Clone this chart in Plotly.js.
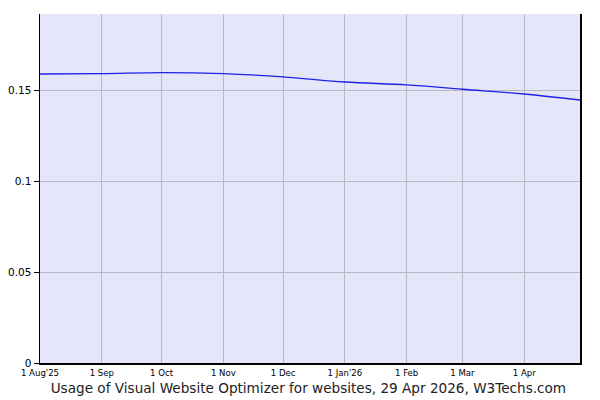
<!DOCTYPE html>
<html>
<head>
<meta charset="utf-8">
<script src="https://cdn.plot.ly/plotly-3.0.1.min.js"></script>
<style>
    html, body { margin: 0; padding: 0; background: #fff; }
    #chart { width: 600px; height: 400px; }
</style>
</head>
<body>
<div id="chart"></div>
<script>
// usage share (%), first of each month + end date
let dates = ["2025-08-01", "2025-09-01", "2025-10-01", "2025-11-01", "2025-12-01",
    "2026-01-01", "2026-02-01", "2026-03-01", "2026-04-01", "2026-04-29"];
let usage = [0.1590, 0.1592, 0.1598, 0.1592, 0.1574, 0.1546, 0.1530, 0.1506, 0.1480, 0.1447];

let tick_dates = ["2025-08-01", "2025-09-01", "2025-10-01", "2025-11-01", "2025-12-01",
    "2026-01-01", "2026-02-01", "2026-03-01", "2026-04-01"];
let tick_labels = ["1 Aug'25", "1 Sep", "1 Oct", "1 Nov", "1 Dec", "1 Jan'26", "1 Feb", "1 Mar", "1 Apr"];
let y_ticks = [0, 0.05, 0.1, 0.15];
let y_labels = ["0", "0.05", "0.1", "0.15"];

let chart_title = "Usage of Visual Website Optimizer for websites, 29 Apr 2026, W3Techs.com";

let trace = {
    x: dates,
    y: usage,
    type: "scatter",
    mode: "lines",
    line: { color: "#2020e8", width: 1.3, shape: "spline", smoothing: 1 },
    hoverinfo: "skip"
};

let layout = {
    width: 600,
    height: 400,
    margin: { l: 40, r: 20, t: 14, b: 37 },
    paper_bgcolor: "#ffffff",
    plot_bgcolor: "#e6e6fa",
    showlegend: false,
    font: { family: "DejaVu Sans", color: "#000" },
    title: {
        text: chart_title,
        font: { family: "DejaVu Sans", size: 13.6, color: "#222" },
        x: 0.514,
        xanchor: "center",
        y: 0.03,
        yref: "container",
        yanchor: "middle"
    },
    xaxis: {
        type: "date",
        range: ["2025-08-01", "2026-04-29"],
        tickvals: tick_dates,
        ticktext: tick_labels,
        tickfont: { family: "DejaVu Sans Condensed", size: 9.5 },
        ticks: "",
        showgrid: true,
        gridcolor: "#b8b8c0",
        gridwidth: 1,
        showline: true,
        linecolor: "#000",
        linewidth: 1.5,
        zeroline: false,
        fixedrange: true
    },
    yaxis: {
        range: [0, 0.192],
        tickvals: y_ticks,
        ticktext: y_labels,
        tickfont: { family: "DejaVu Sans", size: 10.5 },
        ticks: "outside",
        ticklen: 5,
        tickcolor: "#000",
        showgrid: true,
        gridcolor: "#b8b8c0",
        gridwidth: 1,
        showline: true,
        mirror: true,
        linecolor: "#000",
        linewidth: 1.5,
        zeroline: false,
        fixedrange: true
    }
};

Plotly.newPlot("chart", [trace], layout, { staticPlot: true, displayModeBar: false });
</script>
</body>
</html>
